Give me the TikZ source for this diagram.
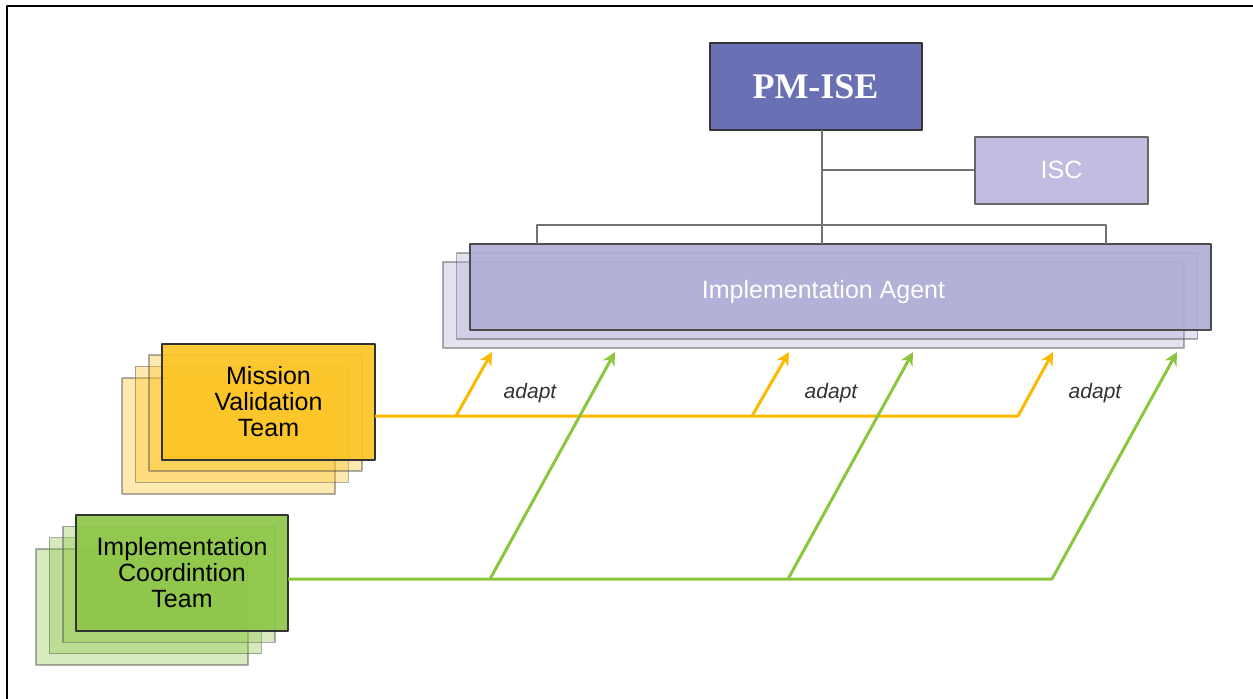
\documentclass[tikz,border=0pt]{standalone}
\usepackage{fontspec}
\setmainfont{Liberation Sans}
\newfontfamily\pmfont{Liberation Serif}
\usetikzlibrary{arrows.meta}
\definecolor{pmblue}{RGB}{106,112,180}
\definecolor{iscfill}{RGB}{192,189,224}
\definecolor{iafill}{RGB}{177,174,214}
\definecolor{mvtfill}{RGB}{252,196,38}
\definecolor{ictfill}{RGB}{142,198,72}
\definecolor{linkyellow}{RGB}{251,186,0}
\definecolor{linkgreen}{RGB}{140,198,63}
\tikzset{
	box/.style={draw=black!80, line width=1pt, inner sep=0pt, outer sep=0pt, align=center},
	front/.style={box, fill opacity=0.92, text opacity=1},
	ghost/.style={draw=black!70, line width=0.8pt, fill opacity=0.36, draw opacity=0.45, inner sep=0pt, outer sep=0pt},
	tree/.style={draw=black!55, line width=0.8pt},
	ylink/.style={draw=linkyellow, line width=1.5pt, -{Stealth[length=6.5pt,width=6.5pt,inset=2pt]}},
	glink/.style={draw=linkgreen, line width=1.5pt, -{Stealth[length=6.5pt,width=6.5pt,inset=2pt]}},
	lbl/.style={font=\fontsize{10.5}{12}\selectfont\itshape, text=black!80}
}
\begin{document}
\begin{tikzpicture}[x=0.5pt, y=-0.5pt, font=\fontsize{12.5}{13}\selectfont, line join=round, >=stealth]
		\useasboundingbox (0,0) rectangle (1253,698);
		\draw[line width=1.2pt, line cap=rect] (7,698) -- (7,6) -- (1253,6);
		\node[box, fill=pmblue, text=white, minimum width=106pt, minimum height=43.5pt, font=\pmfont\bfseries\fontsize{18}{20}\selectfont] (pm) at (815.5,86.5) {PM-ISE};
		\node[box, draw=black!60, fill=iscfill, text=white, minimum width=86.5pt, minimum height=33.5pt] (isc) at (1061.5,170) {ISC};
		\foreach \i in {2,1} \node[ghost, fill=iafill, minimum width=370.5pt, minimum height=43pt] (ia\i) at (840.5-13.5*\i, 287+9*\i) {};
		\node[front, draw=black!70, fill=iafill, minimum width=370.5pt, minimum height=43pt,
			label={[text=white, xshift=-8.5pt, yshift=-2.5pt]center:Implementation Agent}] (ia) at (840.5,287) {};
		\coordinate (trunk) at (822,170);
		\coordinate (bl) at (537,225);
		\coordinate (br) at (1106,225);
		\draw[tree] (pm.south -| trunk) -- (ia.north -| trunk);
		\draw[tree] (trunk) -- (isc.west);
		\draw[tree] (bl |- ia.north) -- (bl) -- (br) -- (br |- ia.north);
		\foreach \i in {3,2,1} \node[ghost, fill=mvtfill, minimum width=106.5pt, minimum height=58pt] (mvt\i) at (268.5-13.3*\i, 401+11.7*\i) {};
		\node[front, fill=mvtfill, minimum width=106.5pt, minimum height=58pt] (mvt) at (268.5,402) {Mission\\Validation\\Team};
		\foreach \i in {3,2,1} \node[ghost, fill=ictfill, minimum width=106pt, minimum height=58pt] (ict\i) at (182-13.3*\i, 573+11.3*\i) {};
		\node[front, fill=ictfill, minimum width=106pt, minimum height=58pt] (ict) at (182,573) {Implementation\\Coordintion\\Team};
		\foreach \n/\x/\y in {ya/456/416, yb/752/416, yc/1018/416, ga/490/579, gb/788/579, gc/1052/579} \coordinate (\n) at (\x,\y);
		\foreach \n/\x in {yta/492, ytb/789, ytc/1053, gta/615, gtb/913, gtc/1177} \coordinate (\n) at (\x,352);
		\draw[ylink] (mvt.east |- ya) -- (yc) -- (ytc);
		\draw[ylink] (ya) -- (yta);
		\draw[ylink] (yb) -- (ytb);
		\draw[glink] (ict.east |- ga) -- (gc) -- (gtc);
		\draw[glink] (ga) -- (gta);
		\draw[glink] (gb) -- (gtb);
		\foreach \n/\x in {a/530, b/831, c/1095} \node[lbl] (adapt\n) at (\x,393) {adapt};
\end{tikzpicture}
\end{document}
